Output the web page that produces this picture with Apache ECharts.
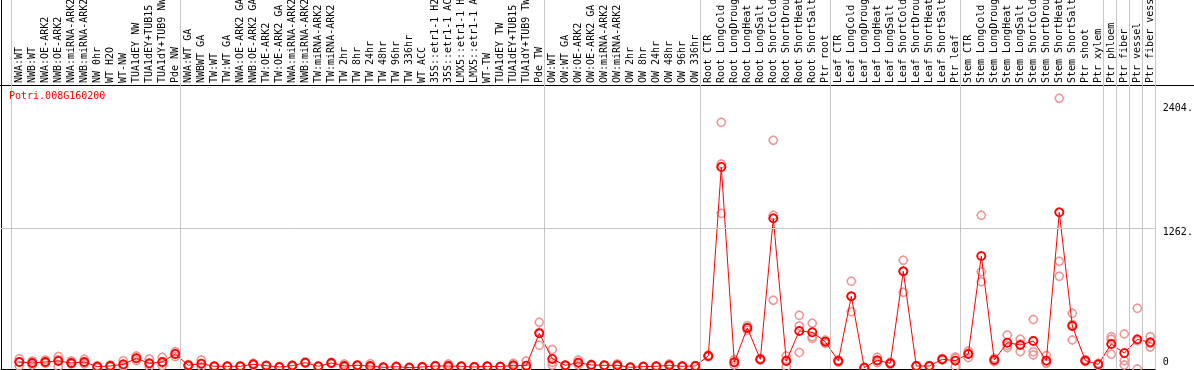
<!DOCTYPE html>
<html><head><meta charset="utf-8">
<script src="https://cdn.jsdelivr.net/npm/echarts@6/dist/echarts.min.js"></script>
<style>html,body{margin:0;padding:0;background:#fff}#c{width:1194px;height:370px}</style>
</head><body><div id="c"></div>
<script>
const chartTitle = 'Potri.008G160200';
const categories = [
 'NWA:WT','NWB:WT','NWA:OE-ARK2','NWB:OE-ARK2','NWA:miRNA-ARK2','NWB:miRNA-ARK2','NW 0hr','WT H2O','WT-NW','TUA1dEY NW','TUA1dEY+TUB15 NW','TUA1dY+TUB9 NW','Pde NW',
 'NWA:WT GA','NWBWT GA','TW:WT','TW:WT GA','NWA:OE-ARK2 GA','NWB:OE-ARK2 GA','TW:OE-ARK2','TW:OE-ARK2 GA','NWA:miRNA-ARK2','NWB:miRNA-ARK2','TW:miRNA-ARK2','TW:miRNA-ARK2',
 'TW 2hr','TW 8hr','TW 24hr','TW 48hr','TW 96hr','TW 336hr','WT ACC','35S::etr1-1 H2O','35S::etr1-1 ACC','LMX5::etr1-1 H2O','LMX5::etr1-1 ACC','WT-TW','TUA1dEY TW','TUA1dEY+TUB15 TW','TUA1dY+TUB9 TW','Pde TW',
 'OW:WT','OW:WT GA','OW:OE-ARK2','OW:OE-ARK2 GA','OW:miRNA-ARK2','OW:miRNA-ARK2','OW 2hr','OW 8hr','OW 24hr','OW 48hr','OW 96hr','OW 336hr',
 'Root CTR','Root LongCold','Root LongDrought','Root LongHeat','Root LongSalt','Root ShortCold','Root ShortDrought','Root ShortHeat','Root ShortSalt','Ptr root',
 'Leaf CTR','Leaf LongCold','Leaf LongDrought','Leaf LongHeat','Leaf LongSalt','Leaf ShortCold','Leaf ShortDrought','Leaf ShortHeat','Leaf ShortSalt','Ptr leaf',
 'Stem CTR','Stem LongCold','Stem LongDrought','Stem LongHeat','Stem LongSalt','Stem ShortCold','Stem ShortDrought','Stem ShortHeat','Stem ShortSalt','Ptr shoot','Ptr xylem',
 'Ptr phloem','Ptr fiber','Ptr vessel','Ptr fiber vessel'
];
const groupSizes = [13, 28, 12, 10, 10, 11, 1, 1, 1, 1];
const meanValues = [
 63,54,63,72,54,63,21,27,42,96,51,63,135,
 33,48,24,24,24,42,30,18,30,57,24,54,27,33,27,15,21,12,18,27,27,24,18,24,21,33,30,320,
 90,33,57,36,33,33,15,21,24,33,24,27,
 117,1812,60,368,87,1351,72,341,329,245,
 72,652,12,78,51,876,27,27,87,75,
 135,1013,81,236,215,251,75,1405,386,75,42,
 224,143,266,239
];
const rep1 = [
 93,72,81,111,72,87,30,36,75,117,90,105,155,
 40,81,27,27,27,51,33,21,36,63,27,60,45,36,48,18,24,15,21,30,45,27,21,27,24,51,72,419,
 175,36,81,42,36,45,18,24,27,45,27,30,
 125,2212,84,389,95,2051,117,481,410,260,
 80,786,15,105,60,975,30,30,95,96,
 161,1378,96,305,266,445,120,2428,499,85,51,
 290,314,544,290
];
const rep2 = [
 63,54,57,84,45,57,21,27,30,96,42,54,135,
 33,42,24,24,24,42,30,18,30,57,24,54,21,33,18,15,21,12,18,27,21,24,18,24,21,27,12,329,
 60,33,54,36,33,30,15,21,24,30,24,27,
 117,1839,60,368,87,1378,78,386,290,245,
 72,652,12,72,51,876,27,27,87,108,
 142,873,81,212,224,155,54,966,400,75,42,
 266,75,254,230
];
const rep3 = [
 27,36,51,21,45,45,12,21,21,75,21,30,111,
 27,21,21,21,21,33,27,15,24,51,21,48,15,30,15,12,18,9,15,24,15,21,15,21,18,21,6,212,
 35,30,36,30,30,24,12,18,21,24,21,24,
 109,1396,36,347,79,616,21,149,275,230,
 60,514,9,57,42,688,24,24,79,21,
 102,783,66,191,155,126,51,831,260,65,33,
 132,36,0,197
];
const yTickValues = [0, 1262, 2404];
const yTickLabels = {0: '0', 1262: '1262.', 2404: '2404.'};
const yGridValues = [1262];

const MONO = 'DejaVu Sans Mono';
const H = 370, PLOT_TOP = 85, PLOT_BOTTOM = 369;
const YMAX = 2547;
const SLOT = 13;
const boundaries = [0];
groupSizes.forEach(s => boundaries.push(boundaries[boundaries.length - 1] + s));

const markerPath = 'path://M9,5 C9,7.209 7.209,9 5,9 C2.791,9 1,7.209 1,5 C1,2.791 2.791,1 5,1 C7.209,1 9,2.791 9,5 Z M5,0 L5,1 M5,9 L5,10 M0,5 L1,5 M9,5 L10,5';

const repData = [];
[rep1, rep2, rep3].forEach(r => r.forEach((v, i) => { if (v != null) repData.push([i, v]); }));

const chart = echarts.init(document.getElementById('c'), null, {renderer: 'canvas'});
const hidden = {axisTick: {show: false}, axisLabel: {show: false}, splitLine: {show: false}};
const gridBase = {outerBoundsMode: 'none', containLabel: false};
chart.setOption({
  animation: false,
  backgroundColor: '#fff',
  title: {text: chartTitle, left: 9, top: 91, padding: 0,
    textStyle: {fontFamily: MONO, fontSize: 10, fontWeight: 'normal', color: '#ff0000'}},
  grid: [
    Object.assign({left: 12.8, right: 37.2, top: PLOT_TOP, bottom: H - PLOT_BOTTOM}, gridBase),
    Object.assign({left: 1, right: 39, top: 0, bottom: H - PLOT_BOTTOM}, gridBase),
    Object.assign({left: 0, right: 0, top: PLOT_TOP, bottom: H - PLOT_BOTTOM}, gridBase)
  ],
  xAxis: [
    {gridIndex: 0, type: 'category', data: categories, position: 'top', boundaryGap: true,
      axisLine: {show: false}, axisTick: {show: false}, splitLine: {show: false},
      axisLabel: {interval: 0, rotate: 90, margin: 2, fontFamily: MONO, fontSize: 10, color: '#000', hideOverlap: false}},
    Object.assign({gridIndex: 1, type: 'value', min: -10 / SLOT, max: boundaries[boundaries.length - 1], position: 'bottom',
      axisLine: {show: true, onZero: false, lineStyle: {color: '#000', width: 1}}}, hidden),
    Object.assign({gridIndex: 2, type: 'value', min: 0, max: 1, position: 'top',
      axisLine: {show: true, onZero: false, lineStyle: {color: '#000', width: 1}}}, hidden)
  ],
  yAxis: [
    {gridIndex: 0, type: 'value', min: 0, max: YMAX, position: 'right',
      axisLine: {show: false}, axisTick: {show: false}, splitLine: {show: false},
      axisLabel: {customValues: yTickValues, margin: 6, fontFamily: MONO, fontSize: 10, color: '#000', align: 'left',
        formatter: v => {
          const t = yTickLabels[v];
          if (v === 0) return '{b|' + t + '}';
          if (v === 1262) return '{m|' + t + '}';
          return '{t|' + t + '}';
        },
        rich: {
          b: {fontFamily: MONO, fontSize: 10, color: '#000', padding: [0, 0, 13, 0]},
          m: {fontFamily: MONO, fontSize: 10, color: '#000', padding: [9, 0, 0, 0]},
          t: {fontFamily: MONO, fontSize: 10, color: '#000', padding: [14, 0, 0, 0]}
        }}},
    Object.assign({gridIndex: 1, type: 'value', min: 0, max: YMAX * PLOT_BOTTOM / (PLOT_BOTTOM - PLOT_TOP), position: 'left',
      axisLine: {show: true, onZero: false, lineStyle: {color: '#000', width: 1}}}, hidden),
    Object.assign({gridIndex: 2, type: 'value', show: false}, hidden)
  ],
  series: [
    {type: 'line', xAxisIndex: 1, yAxisIndex: 1, data: [], z: 1, silent: true,
      markLine: {silent: true, symbol: 'none', animation: false, label: {show: false},
        lineStyle: {color: '#c6c6c6', width: 1, type: 'solid'},
        data: boundaries.map(b => ({xAxis: b})).concat(yGridValues.map(v => ({yAxis: v})))}},
    {type: 'scatter', xAxisIndex: 0, yAxisIndex: 0, data: repData, z: 2,
      symbol: markerPath, symbolSize: 10,
      itemStyle: {color: 'rgba(0,0,0,0)', borderColor: '#f09494', borderWidth: 1.5, opacity: 1}},
    {type: 'line', xAxisIndex: 0, yAxisIndex: 0, data: meanValues, z: 3,
      symbol: markerPath, symbolSize: 10, showSymbol: true, showAllSymbol: true,
      lineStyle: {color: '#ff0000', width: 1},
      itemStyle: {color: 'rgba(0,0,0,0)', borderColor: '#ff0000', borderWidth: 1.8}}
  ]
});
</script></body></html>
